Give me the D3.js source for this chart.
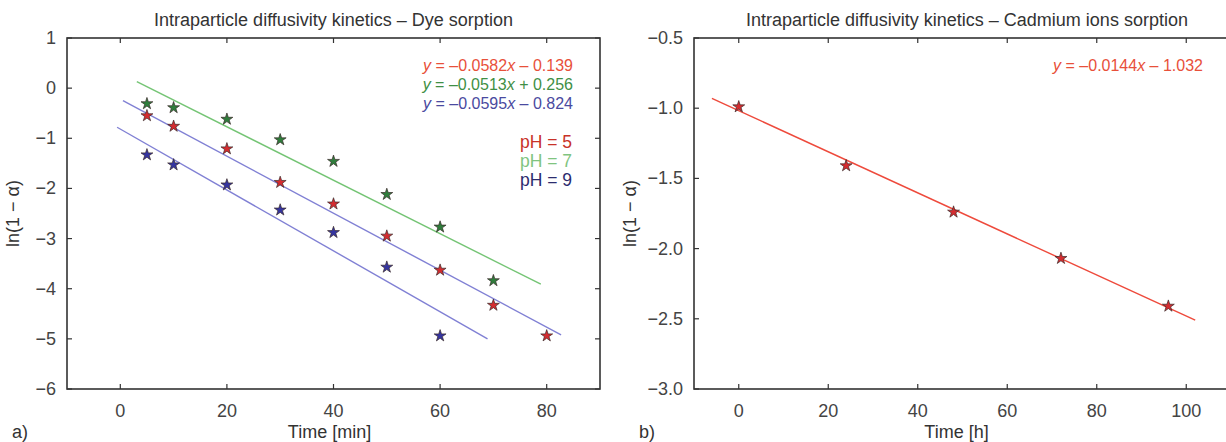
<!DOCTYPE html>
<html>
<head>
<meta charset="utf-8">
<script src="https://cdn.jsdelivr.net/npm/d3@7"></script>
<style>
	body { margin: 0; background: #fff; }
	svg { display: block; font-family: "Liberation Sans", Arial, sans-serif; }
	.spine { fill: none; stroke: #333; stroke-width: 1.6; }
	.tick line { stroke: #333; stroke-width: 1.2; }
	.ticklabel { font-size: 18px; fill: #444; }
</style>
</head>
<body>
<svg id="chart"></svg>
<script>

// Dye sorption (panel a)
var dyeTime5 = [5, 10, 20, 30, 40, 50, 60, 70, 80];
var dyePH5 = [-0.55, -0.76, -1.21, -1.88, -2.31, -2.95, -3.63, -4.33, -4.94];
var dyeTime7 = [5, 10, 20, 30, 40, 50, 60, 70];
var dyePH7 = [-0.31, -0.39, -0.62, -1.03, -1.46, -2.12, -2.77, -3.84];
var dyeTime9 = [5, 10, 20, 30, 40, 50, 60];
var dyePH9 = [-1.33, -1.53, -1.93, -2.43, -2.88, -3.57, -4.94];

// fit lines as drawn: [x0, y0, x1, y1]
var dyeFit5 = [0.5, -0.25, 82.7, -4.92];
var dyeFit7 = [3.1, 0.13, 78.9, -3.91];
var dyeFit9 = [-0.6, -0.78, 68.9, -5.0];

var dyeEquations = [
	["y", " = –0.0582", "x", " – 0.139"],
	["y", " = –0.0513", "x", " + 0.256"],
	["y", " = –0.0595", "x", " – 0.824"]
];
var dyeLegend = ["pH = 5", "pH = 7", "pH = 9"];
var dyeXTicks = [0, 20, 40, 60, 80];
var dyeYTicks = [1, 0, -1, -2, -3, -4, -5, -6];

// Cadmium sorption (panel b)
var cdTime = [0, 24, 48, 72, 96];
var cdValues = [-0.99, -1.41, -1.74, -2.07, -2.41];
var cdFit = [-6, -0.93, 102, -2.51];
var cdEquation = ["y", " = –0.0144", "x", " – 1.032"];
var cdXTicks = [0, 20, 40, 60, 80, 100];
var cdYTicks = [-0.5, -1.0, -1.5, -2.0, -2.5, -3.0];

var width = 1226, height = 442;

var svg = d3.select("#chart")
	.attr("width", width)
	.attr("height", height);

var star = d3.symbol().type(d3.symbolStar).size(44);

function panel(opt){
	var g = svg.append("g");
	var x = d3.scaleLinear().domain(opt.xDomain).range(opt.xRange);
	var y = d3.scaleLinear().domain(opt.yDomain).range(opt.yRange);
	var x0 = opt.xRange[0], x1 = opt.xRange[1], y0 = opt.yRange[1], y1 = opt.yRange[0];

	// ticks pointing inward, on all four sides
	var tl = 5;
	var xt = g.append("g").selectAll("g").data(opt.xTicks).enter().append("g").classed("tick", true);
	xt.append("line").attr("x1", d => x(d)).attr("x2", d => x(d)).attr("y1", y1).attr("y2", y1 - tl);
	xt.append("line").attr("x1", d => x(d)).attr("x2", d => x(d)).attr("y1", y0).attr("y2", y0 + tl);
	xt.append("text").classed("ticklabel", true)
		.attr("x", d => x(d)).attr("y", y1 + 28)
		.attr("text-anchor", "middle")
		.text(d => opt.xFormat(d));

	var yt = g.append("g").selectAll("g").data(opt.yTicks).enter().append("g").classed("tick", true);
	yt.append("line").attr("x1", x0).attr("x2", x0 + tl).attr("y1", d => y(d)).attr("y2", d => y(d));
	yt.append("line").attr("x1", x1).attr("x2", x1 - tl).attr("y1", d => y(d)).attr("y2", d => y(d));
	yt.append("text").classed("ticklabel", true)
		.attr("x", x0 - 11).attr("y", d => y(d) + 6)
		.attr("text-anchor", "end")
		.text(d => opt.yFormat(d));

	g.append("rect").classed("spine", true)
		.attr("x", x0).attr("y", y0)
		.attr("width", x1 - x0).attr("height", y1 - y0);

	// title and axis labels
	g.append("text")
		.attr("x", (x0 + Math.min(x1, width)) / 2 + opt.titleShift).attr("y", 26)
		.attr("text-anchor", "middle")
		.style("font-size", "18px").style("fill", "#333")
		.text(opt.title);
	g.append("text")
		.attr("x", (x0 + x1) / 2 + opt.xLabelShift).attr("y", 438)
		.attr("text-anchor", "middle")
		.style("font-size", "18px").style("fill", "#333")
		.text(opt.xLabel);
	g.append("text")
		.attr("transform", "translate(" + (x0 - opt.yLabelGap) + "," + ((y0 + y1) / 2) + ") rotate(-90)")
		.attr("text-anchor", "middle")
		.style("font-size", "18px").style("fill", "#333")
		.text("ln(1 − α)");
	g.append("text")
		.attr("x", x0 - 55).attr("y", 438)
		.style("font-size", "18px").style("fill", "#333")
		.text(opt.tag);

	var line = d3.line().x(d => x(d[0])).y(d => y(d[1]));
	opt.fits.forEach(function(f){
		g.append("path")
			.attr("d", line([[f.p[0], f.p[1]], [f.p[2], f.p[3]]]))
			.style("fill", "none").style("stroke", f.color).style("stroke-width", 1.4);
	});

	opt.series.forEach(function(s){
		g.append("g").selectAll("path")
			.data(d3.zip(s.xs, s.ys))
			.enter().append("path")
				.attr("d", star)
				.attr("transform", d => "translate(" + x(d[0]) + "," + y(d[1]) + ")")
				.style("fill", s.color).style("stroke", "#3a2a2a").style("stroke-width", 0.7);
	});

	return g;
}

var fmtInt = d => d < 0 ? "−" + Math.abs(d) : String(d);
var fmt1 = d => d < 0 ? "−" + Math.abs(d).toFixed(1) : d.toFixed(1);

var a = panel({
	xDomain: [-10, 90], xRange: [67, 600],
	yDomain: [-6, 1], yRange: [389, 38],
	xTicks: dyeXTicks, yTicks: dyeYTicks,
	xFormat: fmtInt, yFormat: fmtInt,
	title: "Intraparticle diffusivity kinetics – Dye sorption", titleShift: 0,
	xLabel: "Time [min]", xLabelShift: -4, tag: "a)", yLabelGap: 48,
	fits: [
		{p: dyeFit7, color: "#74c474"},
		{p: dyeFit5, color: "#8080d4"},
		{p: dyeFit9, color: "#8080d4"}
	],
	series: [
		{xs: dyeTime7, ys: dyePH7, color: "#2f7d3c"},
		{xs: dyeTime5, ys: dyePH5, color: "#d42c30"},
		{xs: dyeTime9, ys: dyePH9, color: "#3535a0"}
	]
});

var eqColors = ["#e8503a", "#3f8f45", "#4a4aa0"];
dyeEquations.forEach(function(eq, i){
	var t = a.append("text")
		.attr("x", 573).attr("y", 71 + i * 19)
		.attr("text-anchor", "end")
		.style("font-size", "16px").style("fill", eqColors[i]);
	eq.forEach(function(part, j){
		t.append("tspan").style("font-style", j % 2 === 0 ? "italic" : "normal").text(part);
	});
});

var legendColors = ["#c83228", "#80c480", "#2c2c6e"];
a.append("g").selectAll("text")
	.data(dyeLegend)
	.enter().append("text")
		.attr("x", 572).attr("y", (d, i) => 148 + i * 19)
		.attr("text-anchor", "end")
		.style("font-size", "17.5px")
		.style("fill", (d, i) => legendColors[i])
		.text(d => d);

var b = panel({
	xDomain: [-10, 110], xRange: [694, 1231],
	yDomain: [-3, -0.5], yRange: [389, 38],
	xTicks: cdXTicks, yTicks: cdYTicks,
	xFormat: fmtInt, yFormat: fmt1,
	title: "Intraparticle diffusivity kinetics – Cadmium ions sorption", titleShift: 7,
	xLabel: "Time [h]", xLabelShift: -6, tag: "b)", yLabelGap: 58,
	fits: [{p: cdFit, color: "#ee4a3c"}],
	series: [{xs: cdTime, ys: cdValues, color: "#d42c30"}]
});

var ct = b.append("text")
	.attr("x", 1203).attr("y", 71)
	.attr("text-anchor", "end")
	.style("font-size", "16px").style("fill", "#e8503a");
cdEquation.forEach(function(part, j){
	ct.append("tspan").style("font-style", j % 2 === 0 ? "italic" : "normal").text(part);
});

</script>
</body>
</html>
